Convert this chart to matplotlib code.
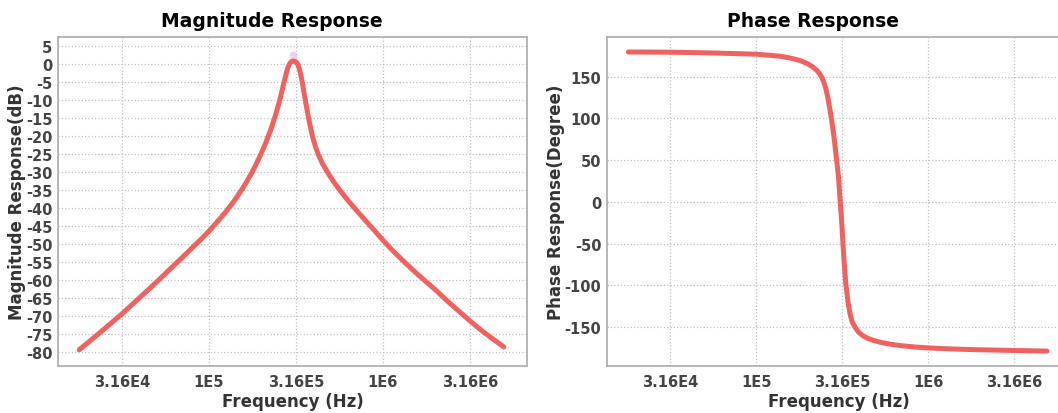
import numpy as np
import matplotlib
matplotlib.use("Agg")
import matplotlib.pyplot as plt

plt.rcParams["axes.unicode_minus"] = False
plt.rcParams["font.family"] = ["DejaVu Sans"]

# ---- data ----
freq_mag = [17930, 20730, 23650, 27350, 31620, 37540, 44570, 52210, 61160, 70720,
            80700, 90900, 101000, 112200, 124800, 136800, 150100, 162400, 175800, 187700,
            200600, 211500, 222900, 231900, 241300, 250900, 257700, 264600, 271700, 279000,
            284600, 290300, 296000, 301900, 309900, 318400, 324700, 331200, 337800, 344500,
            353700, 363200, 372800, 382800, 393000, 408800, 425300, 448400, 479000, 518700,
            561600, 624000, 702800, 780800, 879500, 1.003e6, 1.130e6, 1.289e6, 1.491e6, 1.724e6,
            2.020e6, 2.365e6, 2.735e6, 3.204e6, 3.706e6, 4.284e6, 4.952e6]
mag_db = [-79.4, -76.9, -74.6, -72.0, -69.4, -66.1, -62.8, -59.7, -56.5, -53.6,
          -50.9, -48.5, -46.2, -43.7, -41.1, -38.6, -35.8, -33.2, -30.3, -27.6,
          -24.6, -22.0, -19.1, -16.8, -14.2, -11.3, -9.2, -6.9, -4.5, -2.3,
          -0.9, 0.0, 0.6, 0.8, 0.8, 0.5, -0.2, -1.4, -3.2, -5.4,
          -8.6, -11.8, -14.8, -17.5, -20.0, -22.9, -25.2, -27.6, -30.0, -32.6,
          -34.9, -37.7, -40.6, -43.1, -45.9, -49.0, -51.7, -54.4, -57.3, -60.0,
          -62.9, -66.0, -68.7, -71.6, -74.1, -76.4, -78.6]

freq_phase = [18030, 31790, 56020, 100500, 137300, 157000, 179600, 197200, 213700, 228400,
              240000, 247500, 254200, 261100, 268200, 275500, 282900, 293300, 300500, 306700,
              312900, 318100, 323600, 331100, 341400, 350700, 360200, 374700, 391700, 411500,
              440000, 478800, 530900, 598900, 684700, 837000, 992000, 1.337e6, 1.819e6, 3.150e6,
              4.899e6]
phase_deg = [179.5, 179.2, 178.3, 176.8, 174.4, 172.3, 169.2, 165.8, 161.5, 156.0,
             149.5, 143.0, 135.0, 124.0, 110.0, 95.0, 78.0, 50.0, 30.0, 4.0,
             -20.0, -45.0, -70.0, -97.0, -120.0, -134.0, -143.0, -150.0, -155.5, -159.5,
             -163.0, -165.8, -168.3, -170.3, -172.0, -173.8, -174.8, -176.0, -176.9, -177.9,
             -178.6]

peak_freq = [306000]
peak_db = [2.5]

xtick_vals = [3.16e4, 1e5, 3.16e5, 1e6, 3.16e6]
xtick_labels = ["3.16E4", "1E5", "3.16E5", "1E6", "3.16E6"]
mag_ticks = list(range(5, -81, -5))
phase_ticks = [150, 100, 50, 0, -50, -100, -150]

line_color = "#ee635f"
text_color = "#333333"
tick_color = "#444444"


def style_axes(ax):
    ax.set_xscale("log")
    ax.grid(True, which="major", linestyle=":", color="#c0c0c0", linewidth=0.9)
    ax.minorticks_off()
    ax.set_xticks(xtick_vals)
    ax.set_xticklabels(xtick_labels)
    ax.tick_params(length=0, labelsize=10.5, colors=tick_color)
    ax.tick_params(axis="x", pad=6)
    ax.tick_params(axis="y", pad=4)
    for lbl in ax.get_xticklabels() + ax.get_yticklabels():
        lbl.set_fontweight("bold")
    for sp in ax.spines.values():
        sp.set_color("#aaaaaa")
        sp.set_linewidth(1.2)
    ax.set_xlabel("Frequency (Hz)", fontsize=12, fontweight="bold",
                  color=text_color, labelpad=2)


fig = plt.figure(figsize=(10.58, 4.14), dpi=100)

ax1 = fig.add_axes([0.0548, 0.1135, 0.4433, 0.7947])
ax1.scatter(peak_freq, peak_db, s=30, color="#f7cdef", zorder=1, linewidths=0)
ax1.plot(freq_mag, mag_db, color=line_color, linewidth=3.6,
         solid_capstyle="round", solid_joinstyle="round", zorder=2)
ax1.set_xlim(1.355e4, 6.73e6)
ax1.set_ylim(-83.9, 7.5)
ax1.set_yticks(mag_ticks)
style_axes(ax1)
ax1.set_ylabel("Magnitude Response(dB)", fontsize=12, fontweight="bold",
               color=text_color, labelpad=0)
ax1.set_title("Magnitude Response", fontsize=13.5, fontweight="bold",
              color="black", pad=8)
ax1.title.set_x(0.456)

ax2 = fig.add_axes([0.5737, 0.1135, 0.4383, 0.7947])
ax2.plot(freq_phase, phase_deg, color=line_color, linewidth=3.6,
         solid_capstyle="round", solid_joinstyle="round")
ax2.set_xlim(1.355e4, 6.73e6)
ax2.set_ylim(-196.5, 197.4)
ax2.set_yticks(phase_ticks)
style_axes(ax2)
ax2.set_ylabel("Phase Response(Degree)", fontsize=12, fontweight="bold",
               color=text_color, labelpad=0)
ax2.set_title("Phase Response", fontsize=13.5, fontweight="bold",
              color="black", pad=8)
ax2.title.set_x(0.444)

fig.savefig("out.png", dpi=100)
